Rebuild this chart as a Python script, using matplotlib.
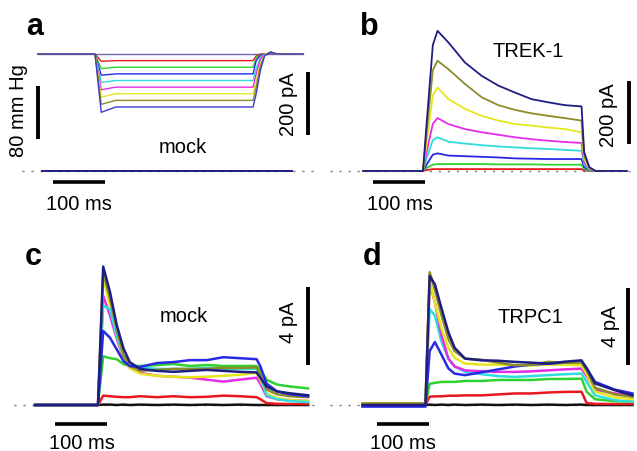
import matplotlib.pyplot as plt

plt.rcParams['font.family'] = ['Liberation Sans', 'DejaVu Sans']

# ---- colours used for the pressure steps / traces ----
RED = '#e8191e'
GRN = '#2ed22e'
BLU = '#2828e6'
CYA = '#30dcdc'
MAG = '#e62ce6'
YEL = '#e6e61e'
OLV = '#8c8c28'
NAV = '#1e1e82'
BLK = '#111111'

# ---- a: pressure steps (mm Hg) ----
press_t = [-110, 0, 12, 40, 304, 310, 318, 326, 338, 350, 400]
press_nav = [0, 0, -88, -80, -80, -60, -25, -3, 3, 0, 0]
press_olv = [0, 0, -76, -70, -70, -50, -18, -2, 3, 0, 0]
press_yel = [0, 0, -65, -60, -60, -42, -14, -1, 3, 0, 0]
press_mag = [0, 0, -54, -50, -50, -30, -8, 0, 2, 0, 0]
press_cya = [0, 0, -43, -40, -40, -22, -5, 0, 2, 0, 0]
press_blu = [0, 0, -32, -30, -30, -10, -2, 0, 1, 0, 0]
press_grn = [0, 0, -22, -20, -20, -6, -1, 0, 1, 0, 0]
press_red = [0, 0, -11, -10, -10, -3, 0, 0, 1, 0, 0]
press_zero = [0, 0, 0, 0, 0, 0, 0, 0, 0, 0, 0]

# ---- a: mock current (pA) ----
mock_t = [-102, 379]
mock_i = [0, 0]

# ---- b: TREK-1 currents (pA) ----
b_t = [-117, -2, 5, 17, 26, 47, 79, 111, 143, 175, 207, 239, 271, 303, 308, 318, 330, 390]
b_nav = [0, 0, 150, 400, 445, 408, 344, 302, 271, 249, 228, 218, 209, 205, 60, 12, 0, 0]
b_olv = [0, 0, 120, 320, 350, 323, 276, 234, 209, 194, 183, 175, 168, 160, 48, 10, 0, 0]
b_yel = [0, 0, 90, 240, 265, 228, 197, 175, 160, 149, 144, 138, 133, 123, 38, 8, 0, 0]
b_mag = [0, 0, 60, 150, 168, 149, 133, 123, 115, 107, 101, 96, 92, 89, 28, 6, 0, 0]
b_cya = [0, 0, 40, 98, 107, 93, 87, 82, 78, 75, 72, 70, 67, 64, 20, 4, 0, 0]
b_blu = [0, 0, 20, 52, 56, 49, 47, 45, 43, 40, 39, 38, 38, 38, 12, 3, 0, 0]
b_grn = [0, 0, 10, 20, 22, 22, 22, 22, 21, 21, 21, 20, 20, 20, 6, 1, 0, 0]
b_red = [0, 0, 3, 6, 6, 6, 6, 6, 6, 6, 6, 6, 6, 6, 2, 0, 0, 0]

# ---- c: mock, small currents (pA) ----
c_t = [-121, 0, 10, 23, 36, 49, 61, 81, 113, 145, 177, 209, 241, 273, 305, 312, 324, 344, 369, 404]
c_nav = [0, 0, 7.1, 5.8, 4.1, 2.9, 2.2, 1.85, 1.75, 1.7, 1.75, 1.8, 1.75, 1.7, 1.67, 1.4, 0.95, 0.7, 0.6, 0.5]
c_olv = [0, 0, 6.8, 5.45, 3.9, 2.55, 2.0, 1.76, 1.8, 1.85, 1.85, 1.85, 1.9, 1.9, 1.93, 1.6, 0.8, 0.55, 0.45, 0.4]
c_yel = [0, 0, 6.5, 5.1, 3.55, 2.4, 1.9, 1.6, 1.5, 1.45, 1.42, 1.45, 1.5, 1.55, 1.65, 1.3, 0.6, 0.35, 0.25, 0.2]
c_cya = [0, 0, 5.1, 4.9, 3.55, 2.55, 2.1, 1.95, 1.85, 1.85, 1.85, 1.9, 1.85, 1.85, 1.85, 1.5, 0.5, 0.3, 0.2, 0.15]
c_mag = [0, 0, 5.6, 4.6, 3.4, 2.35, 1.9, 1.65, 1.5, 1.45, 1.4, 1.3, 1.2, 1.3, 1.4, 1.1, 0.45, 0.3, 0.25, 0.2]
c_blu = [0, 0, 3.8, 3.45, 2.85, 2.25, 2.0, 1.95, 2.15, 2.2, 2.3, 2.3, 2.45, 2.4, 2.35, 2.0, 1.1, 0.7, 0.55, 0.45]
c_grn = [0, 0, 2.5, 2.4, 2.35, 2.1, 2.0, 2.0, 2.05, 2.1, 2.0, 2.05, 2.0, 2.0, 2.0, 1.8, 1.3, 1.05, 0.95, 0.85]
c_red = [0, 0, 0.48, 0.45, 0.42, 0.4, 0.4, 0.45, 0.4, 0.45, 0.4, 0.42, 0.48, 0.45, 0.4, 0.3, 0.1, 0.06, 0.05, 0.05]
c_blk = [0, 0, 0.02, 0.02, 0, 0.02, 0, 0.02, 0, 0.02, 0, 0.02, 0, 0.02, 0, 0, 0, 0, 0, 0]

# ---- d: TRPC1 currents (pA) ----
d_t = [-121, 0, 8, 18, 31, 44, 56, 76, 108, 140, 172, 204, 236, 268, 300, 310, 326, 364, 398]
d_nav = [0, 0, 6.7, 6.27, 5.0, 3.78, 2.97, 2.41, 2.32, 2.3, 2.24, 2.2, 2.15, 2.25, 2.32, 1.9, 1.12, 0.77, 0.5]
d_olv = [0.08, 0.08, 6.9, 6.0, 4.64, 3.44, 2.8, 2.41, 2.35, 2.2, 2.06, 2.1, 2.24, 2.2, 2.2, 1.8, 0.9, 0.55, 0.43]
d_yel = [0.08, 0.08, 6.5, 5.33, 3.96, 2.97, 2.45, 2.15, 2.1, 2.1, 2.06, 2.05, 2.1, 2.1, 2.06, 1.6, 0.7, 0.4, 0.3]
d_mag = [-0.05, -0.05, 6.36, 5.33, 3.61, 2.41, 2.0, 1.8, 1.75, 1.72, 1.72, 1.75, 1.8, 1.85, 1.89, 1.5, 0.8, 0.6, 0.5]
d_cya = [0, 0, 4.98, 4.64, 3.27, 2.41, 2.0, 1.72, 1.6, 1.5, 1.46, 1.5, 1.55, 1.6, 1.63, 1.2, 0.5, 0.25, 0.17]
d_blu = [-0.08, -0.08, 2.8, 3.27, 2.6, 1.9, 1.63, 1.55, 1.7, 1.85, 2.0, 2.1, 2.15, 2.2, 2.25, 1.9, 1.2, 0.8, 0.6]
d_grn = [0, 0, 1.1, 1.15, 1.2, 1.2, 1.2, 1.25, 1.25, 1.3, 1.3, 1.3, 1.35, 1.35, 1.37, 0.69, 0.3, 0.2, 0.17]
d_red = [0, 0, 0.43, 0.45, 0.45, 0.48, 0.48, 0.5, 0.5, 0.55, 0.6, 0.6, 0.65, 0.68, 0.69, 0.1, 0.06, 0.05, 0.05]
d_blk = [0, 0, 0.02, 0, 0.02, 0, 0.02, 0, 0.02, 0, 0.02, 0, 0.02, 0, 0.02, 0, 0, 0, 0]

W, H = 637, 452
MS = 0.52  # pixel per ms (100 ms bar = 52 px)
FS = 14.5   # label font size
FL = 22     # panel letter size

fig = plt.figure(figsize=(W / 100, H / 100), dpi=100)


def panel(x_on, y_base, px_per_unit):
    # full-figure transparent axes, data mapped onto pixel grid
    ax = fig.add_axes([0, 0, 1, 1])
    ax.set_xlim((0 - x_on) / MS, (W - x_on) / MS)
    ax.set_ylim((y_base - H) / px_per_unit, y_base / px_per_unit)
    ax.axis('off')
    ax.patch.set_alpha(0)
    return ax


def px(ax_info, x, y):
    x_on, y_base, sc = ax_info
    return (x - x_on) / MS, (y_base - y) / sc


def zero_line(ax, info, x0, x1):
    a0, _ = px(info, x0, 0)
    a1, _ = px(info, x1, 0)
    ax.plot([a0, a1], [0, 0], color='#777777', lw=1.0, ls=(0, (1.5, 5)), zorder=0)


def vbar(ax, info, x, y_top, length):
    bx, by = px(info, x, y_top)
    ax.plot([bx, bx], [by - length, by], color='black', lw=2.8, solid_capstyle='butt')


def hbar(ax, info, x_left, y, length):
    bx, by = px(info, x_left, y)
    ax.plot([bx, bx + length], [by, by], color='black', lw=2.6, solid_capstyle='butt')


def txt(x, y, s, **kw):
    fig.text(x / W, 1 - y / H, s, **kw)


# ===== a =====
info_ap = (95, 55, 53 / 80)
ax_ap = panel(*info_ap)
ax_ap.plot(press_t, press_zero, color='#6a6ab4', lw=1.0)
for vals, col in [(press_red, RED), (press_grn, GRN), (press_blu, BLU), (press_cya, CYA),
                  (press_mag, MAG), (press_yel, YEL), (press_olv, OLV), (press_nav, '#3c3cc8')]:
    ax_ap.plot(press_t, vals, color=col, lw=1.0)
vbar(ax_ap, info_ap, 38, 87, 80)

info_ai = (95, 172, 63 / 200)
ax_ai = panel(*info_ai)
zero_line(ax_ai, info_ai, 22, 318)
ax_ai.plot(mock_t, mock_i, color=NAV, lw=1.4)
vbar(ax_ai, info_ai, 308, 73, 200)
hbar(ax_ai, info_ai, 53, 183, 100)

txt(26, 35, 'a', fontsize=FL, fontweight='bold', ha='left', va='baseline')
txt(19, 111, '80 mm Hg', fontsize=FS, rotation=90, ha='center', va='center')
txt(288, 104, '200 pA', fontsize=FS, rotation=90, ha='center', va='center')
txt(183, 153, 'mock', fontsize=FS, ha='center', va='baseline')
txt(79, 210, '100 ms', fontsize=FS, ha='center', va='baseline')

# ===== b =====
info_b = (424, 172, 63 / 200)
ax_b = panel(*info_b)
zero_line(ax_b, info_b, 330, 637)
for vals, col in [(b_red, RED), (b_grn, GRN), (b_blu, BLU), (b_cya, CYA),
                  (b_mag, MAG), (b_yel, YEL), (b_olv, OLV), (b_nav, NAV)]:
    ax_b.plot(b_t, vals, color=col, lw=1.3)
vbar(ax_b, info_b, 629, 82, 200)
hbar(ax_b, info_b, 373, 183, 100)

txt(360, 35, 'b', fontsize=FL, fontweight='bold', ha='left', va='baseline')
txt(528, 57, 'TREK-1', fontsize=FS, ha='center', va='baseline')
txt(609, 115, '200 pA', fontsize=FS, rotation=90, ha='center', va='center')
txt(400, 210, '100 ms', fontsize=FS, ha='center', va='baseline')

# ===== c =====
info_c = (98, 406, 78 / 4)
ax_c = panel(*info_c)
zero_line(ax_c, info_c, 14, 318)
for vals, col in [(c_blk, BLK), (c_red, RED), (c_grn, GRN), (c_mag, MAG), (c_yel, YEL),
                  (c_cya, CYA), (c_olv, OLV), (c_blu, BLU), (c_nav, NAV)]:
    ax_c.plot(c_t, vals, color=col, lw=1.8)
vbar(ax_c, info_c, 307.5, 288, 4)
hbar(ax_c, info_c, 55, 425, 100)

txt(25, 265, 'c', fontsize=FL, fontweight='bold', ha='left', va='baseline')
txt(184, 322, 'mock', fontsize=FS, ha='center', va='baseline')
txt(288, 322, '4 pA', fontsize=FS, rotation=90, ha='center', va='center')
txt(82, 449, '100 ms', fontsize=FS, ha='center', va='baseline')

# ===== d =====
info_d = (425.5, 406, 77 / 4)
ax_d = panel(*info_d)
zero_line(ax_d, info_d, 330, 637)
for vals, col in [(d_blk, BLK), (d_red, RED), (d_grn, GRN), (d_cya, CYA), (d_mag, MAG),
                  (d_yel, YEL), (d_blu, BLU), (d_olv, OLV), (d_nav, NAV)]:
    ax_d.plot(d_t, vals, color=col, lw=1.8)
vbar(ax_d, info_d, 628, 289, 4)
hbar(ax_d, info_d, 377, 425, 100)

txt(363, 265, 'd', fontsize=FL, fontweight='bold', ha='left', va='baseline')
txt(530, 323, 'TRPC1', fontsize=FS, ha='center', va='baseline')
txt(611, 326, '4 pA', fontsize=FS, rotation=90, ha='center', va='center')
txt(403, 449, '100 ms', fontsize=FS, ha='center', va='baseline')

fig.savefig('out.png', dpi=100, facecolor='white')
